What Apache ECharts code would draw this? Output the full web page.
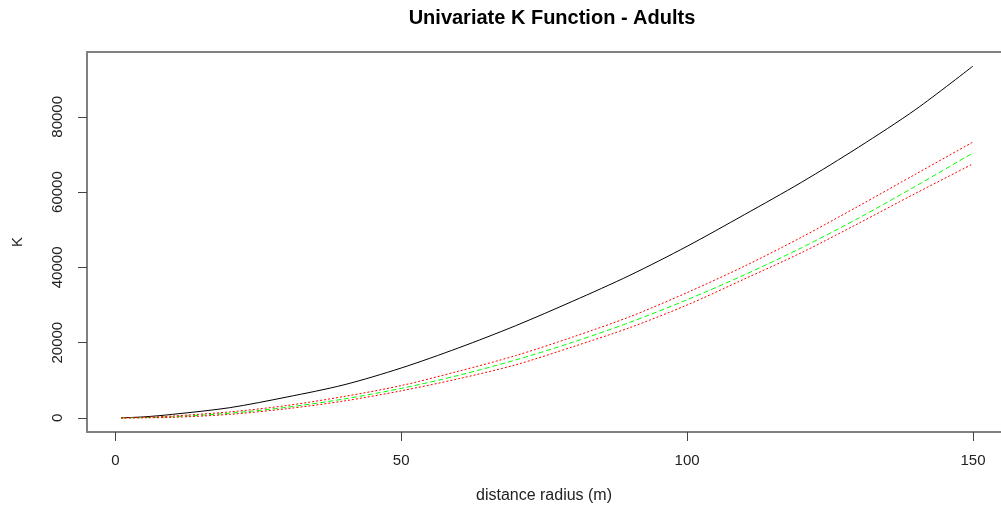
<!DOCTYPE html>
<html>
<head>
<meta charset="utf-8">
<script src="https://cdn.jsdelivr.net/npm/echarts@6/dist/echarts.min.js"></script>
<style>
  html, body { margin: 0; padding: 0; background: #fff; overflow: hidden; }
  #main { width: 1001px; height: 509px; }
</style>
</head>
<body>
<div id="main"></div>
<script>
// distance radius (m)
var radius = [1, 5, 10, 20, 30, 40, 50, 60, 70, 80, 90, 100, 110, 120, 130, 140, 150];
// observed K
var kObs = [30, 280, 950, 2720, 5550, 8800, 13260, 18590, 24490, 31010, 37900, 45600, 53990, 62600, 71940, 81980, 93480];
// theoretical K (CSR)
var kTheo = [3, 80, 314, 1260, 2830, 5030, 7850, 11300, 15400, 20100, 25400, 31400, 38000, 45200, 53100, 61600, 70400];
// simulation envelope
var kHigh = [10, 150, 500, 1600, 3300, 5700, 8600, 12400, 16550, 21500, 26900, 33300, 40300, 48000, 56300, 64800, 73300];
var kLow = [0, 30, 150, 950, 2450, 4500, 7200, 10400, 14100, 18900, 24000, 30000, 36900, 43900, 51700, 59700, 67500];

var xTicks = [0, 50, 100, 150];
var yTicks = [0, 20000, 40000, 60000, 80000];

function pairs(ys) {
    return radius.map(function (r, i) { return [r, ys[i]]; });
}

var font = 'Liberation Sans, Arial, sans-serif';
var boxLine = { show: true, onZero: false, lineStyle: { color: '#808080', width: 2 } };
var xMin = -4.95, xMax = 154.9;

var option = {
    animation: false,
    backgroundColor: '#fff',
    title: {
        text: 'Univariate K Function - Adults',
        left: 547,
        textAlign: 'center',
        top: 3,
        textStyle: { fontFamily: font, fontSize: 20, fontWeight: 'bold', color: '#000' }
    },
    grid: { left: 87, top: 52, right: 0, bottom: 76 },
    xAxis: [{
        type: 'value',
        min: xMin, max: xMax,
        name: 'distance radius (m)',
        nameLocation: 'middle',
        nameGap: 56,
        nameTextStyle: { fontFamily: font, fontSize: 16, color: '#222' },
        axisLine: boxLine,
        axisTick: { length: 9, customValues: xTicks, lineStyle: { color: '#444' } },
        axisLabel: {
            customValues: xTicks, margin: 21,
            fontFamily: font, fontSize: 15, color: '#222',
            formatter: function (v) { return String(v); }
        },
        splitLine: { show: false }
    }, {
        type: 'value', position: 'top',
        min: xMin, max: xMax,
        axisLine: boxLine,
        axisTick: { show: false },
        axisLabel: { show: false },
        splitLine: { show: false }
    }],
    yAxis: {
        type: 'value',
        min: -3739, max: 97223,
        name: 'K',
        nameLocation: 'middle',
        nameRotate: 90,
        nameGap: 62,
        nameTextStyle: { fontFamily: font, fontSize: 15, color: '#222' },
        axisLine: boxLine,
        axisTick: { length: 9, customValues: yTicks, lineStyle: { color: '#444' } },
        axisLabel: {
            customValues: yTicks, rotate: 90, margin: 22,
            fontFamily: font, fontSize: 15, color: '#222',
            formatter: function (v) { return String(v); }
        },
        splitLine: { show: false }
    },
    series: [
        {
            name: 'observed', type: 'line', showSymbol: false, smooth: 0.3,
            data: pairs(kObs),
            lineStyle: { color: '#000', width: 1 }
        },
        {
            name: 'theoretical', type: 'line', showSymbol: false, smooth: 0.3,
            data: pairs(kTheo),
            lineStyle: { color: '#00ff00', width: 1, type: [5, 3] }
        },
        {
            name: 'upper', type: 'line', showSymbol: false, smooth: 0.3,
            data: pairs(kHigh),
            lineStyle: { color: '#ff0000', width: 1, type: [2, 2] }
        },
        {
            name: 'lower', type: 'line', showSymbol: false, smooth: 0.3,
            data: pairs(kLow),
            lineStyle: { color: '#ff0000', width: 1, type: [2, 2] }
        }
    ]
};

var myChart = echarts.init(document.getElementById('main'));
myChart.setOption(option);
</script>
</body>
</html>
